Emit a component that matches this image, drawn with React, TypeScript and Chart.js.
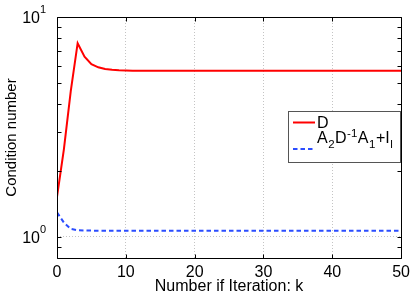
import React, { useEffect, useRef } from 'react';
import { Chart, registerables } from 'chart.js';

Chart.register(...registerables);

// ---- data ----
const iterations = [
  0, 1, 2, 3, 4, 5, 6, 7, 8, 9, 10, 11, 12, 13, 14, 15, 16, 17, 18, 19, 20,
  21, 22, 23, 24, 25, 26, 27, 28, 29, 30, 31, 32, 33, 34, 35, 36, 37, 38, 39, 40,
  41, 42, 43, 44, 45, 46, 47, 48, 49, 50,
];
const condD = [
  1.52, 2.5, 4.6, 7.6, 6.6, 6.1, 5.9, 5.8, 5.75, 5.72, 5.71, 5.7, 5.7, 5.7, 5.7, 5.7, 5.7, 5.7, 5.7, 5.7, 5.7,
  5.7, 5.7, 5.7, 5.7, 5.7, 5.7, 5.7, 5.7, 5.7, 5.7, 5.7, 5.7, 5.7, 5.7, 5.7, 5.7, 5.7, 5.7, 5.7, 5.7,
  5.7, 5.7, 5.7, 5.7, 5.7, 5.7, 5.7, 5.7, 5.7, 5.7,
];
const condSchur = [
  1.29, 1.16, 1.085, 1.07, 1.067, 1.066, 1.065, 1.065, 1.065, 1.065, 1.065, 1.065, 1.065, 1.065, 1.065, 1.065, 1.065, 1.065, 1.065, 1.065, 1.065,
  1.065, 1.065, 1.065, 1.065, 1.065, 1.065, 1.065, 1.065, 1.065, 1.065, 1.065, 1.065, 1.065, 1.065, 1.065, 1.065, 1.065, 1.065, 1.065, 1.065,
  1.065, 1.065, 1.065, 1.065, 1.065, 1.065, 1.065, 1.065, 1.065, 1.065,
];
const xTicks = [0, 10, 20, 30, 40, 50];
const yTicks = [0.8, 0.9, 1, 2, 3, 4, 5, 6, 7, 8, 9, 10];
const yMajorTicks = [1, 10];
const yMajorBase = ['10', '10'];
const yMajorExp = ['0', '1'];
const labelD = 'D';
// legend label A_2 D^{-1} A_1 + I_l : [text, kind]
const labelSchurParts: [string, string][] = [
  ['A', 'n'], ['2', 'sub'], ['D', 'n'], ['-1', 'sup'], ['A', 'n'], ['1', 'sub'], ['+I', 'n'], ['l', 'sub'],
];
const xTitle = 'Number if Iteration: k';
const yTitle = 'Condition number';

const FONT = '"Liberation Sans", Arial, Helvetica, sans-serif';
const RED = '#ff0000';
const BLUE = '#2b4dff';
const GRID = '#c4c4c4';

const framePlugin = {
  id: 'matlabFrame',
  afterDatasetsDraw(chart: any) {
    const { ctx, chartArea, scales } = chart;
    const { left, right, top, bottom } = chartArea;
    const xs = scales.x;
    const ys = scales.y;
    ctx.save();
    ctx.strokeStyle = '#000';
    ctx.lineWidth = 1;
    const L = Math.round(left) + 0.5;
    const R = Math.round(right) + 0.5;
    const T = Math.round(top) + 0.5;
    const B = Math.round(bottom) + 0.5;
    ctx.beginPath();
    ctx.rect(L, T, R - L, B - T);
    ctx.stroke();
    const tl = 4;
    ctx.beginPath();
    xTicks.forEach((v) => {
      const px = Math.round(xs.getPixelForValue(v)) + 0.5;
      ctx.moveTo(px, B);
      ctx.lineTo(px, B - tl);
      ctx.moveTo(px, T);
      ctx.lineTo(px, T + tl);
    });
    yTicks.forEach((v) => {
      const py = Math.round(ys.getPixelForValue(v)) + 0.5;
      ctx.moveTo(L, py);
      ctx.lineTo(L + tl, py);
      ctx.moveTo(R, py);
      ctx.lineTo(R - tl, py);
    });
    ctx.stroke();

    // y tick labels with superscripts
    ctx.fillStyle = '#000';
    yMajorTicks.forEach((v, i) => {
      const py = ys.getPixelForValue(v);
      ctx.font = `16px ${FONT}`;
      ctx.textAlign = 'right';
      ctx.textBaseline = 'alphabetic';
      ctx.fillText(yMajorBase[i], 40, py + 6);
      ctx.font = `11px ${FONT}`;
      ctx.textAlign = 'left';
      ctx.fillText(yMajorExp[i], 40, py - 4);
    });

    // legend
    const bx = 288.5, by = 111.5, bw = 112, bh = 51;
    ctx.fillStyle = '#fff';
    ctx.fillRect(bx, by, bw, bh);
    ctx.strokeStyle = '#555';
    ctx.strokeRect(bx, by, bw, bh);
    const ds = chart.data.datasets;
    // entry 1
    ctx.lineWidth = 2;
    ctx.strokeStyle = ds[0].borderColor;
    ctx.setLineDash([]);
    ctx.beginPath();
    ctx.moveTo(293, 122.5);
    ctx.lineTo(315, 122.5);
    ctx.stroke();
    ctx.fillStyle = '#000';
    ctx.font = `16px ${FONT}`;
    ctx.textAlign = 'left';
    ctx.fillText(labelD, 317, 127.5);
    // entry 2
    ctx.strokeStyle = ds[1].borderColor;
    ctx.setLineDash(ds[1].borderDash);
    ctx.beginPath();
    ctx.moveTo(293, 149);
    ctx.lineTo(315, 149);
    ctx.stroke();
    ctx.setLineDash([]);
    let cx = 317;
    const base = 143;
    labelSchurParts.forEach(([t, kind]) => {
      if (kind === 'n') {
        ctx.font = `16px ${FONT}`;
        ctx.fillText(t, cx, base);
      } else if (kind === 'sub') {
        ctx.font = `11.5px ${FONT}`;
        ctx.fillText(t, cx + 0.5, base + 4.5);
      } else {
        ctx.font = `11.5px ${FONT}`;
        ctx.fillText(t, cx + 0.5, base - 6.5);
      }
      cx += ctx.measureText(t).width + (kind === 'n' ? 0 : 1);
    });
    ctx.restore();
  },
};

export default function App() {
  const ref = useRef<HTMLCanvasElement | null>(null);
  useEffect(() => {
    if (!ref.current) return;
    const chart = new Chart(ref.current, {
      type: 'line',
      data: {
        datasets: [
          {
            label: labelD,
            data: iterations.map((k, i) => ({ x: k, y: condD[i] })),
            borderColor: RED,
            borderWidth: 2,
            pointRadius: 0,
            tension: 0,
            fill: false,
          },
          {
            label: 'A2D-1A1+Il',
            data: iterations.map((k, i) => ({ x: k, y: condSchur[i] })),
            borderColor: BLUE,
            borderWidth: 2,
            borderDash: [4.5, 3],
            pointRadius: 0,
            tension: 0,
            fill: false,
          },
        ],
      },
      options: {
        responsive: false,
        animation: false,
        events: [],
        layout: { padding: { top: 17, right: 12, left: 0, bottom: 0 } },
        plugins: { legend: { display: false }, tooltip: { enabled: false } },
        scales: {
          x: {
            type: 'linear',
            min: 0,
            max: 50,
            afterBuildTicks: (s: any) => {
              s.ticks = xTicks.map((v) => ({ value: v }));
            },
            afterFit: (s: any) => {
              s.height = 40;
            },
            grid: {
              drawTicks: false,
              color: (c: any) =>
                c.tick && c.tick.value > 0 && c.tick.value < 50 ? GRID : 'rgba(0,0,0,0)',
              lineWidth: 1,
            },
            border: { display: false, dash: [1, 2] },
            ticks: {
              padding: 5,
              color: '#000',
              font: { family: FONT, size: 16 },
              maxRotation: 0,
              autoSkip: false,
            },
            title: {
              display: true,
              text: xTitle,
              color: '#000',
              font: { family: FONT, size: 16 },
              padding: { top: 0, bottom: 2 },
            },
          },
          y: {
            type: 'logarithmic',
            min: 0.8,
            max: 10,
            afterBuildTicks: (s: any) => {
              s.ticks = yTicks.map((v) => ({ value: v }));
            },
            afterFit: (s: any) => {
              s.width = 57;
            },
            grid: {
              drawTicks: false,
              color: (c: any) => (c.tick && c.tick.value === 1 ? GRID : 'rgba(0,0,0,0)'),
              lineWidth: 1,
            },
            border: { display: false, dash: [1, 2] },
            ticks: { display: false },
            title: {
              display: true,
              text: yTitle,
              color: '#000',
              font: { family: FONT, size: 15 },
              padding: { top: 2.5, bottom: 0 },
            },
          },
        },
      },
      plugins: [framePlugin],
    });
    return () => chart.destroy();
  }, []);
  return (
    <div style={{ position: 'fixed', left: 0, top: 0, width: 415, height: 298, background: '#fff' }}>
      <canvas ref={ref} width={415} height={298} style={{ display: 'block' }} />
    </div>
  );
}
